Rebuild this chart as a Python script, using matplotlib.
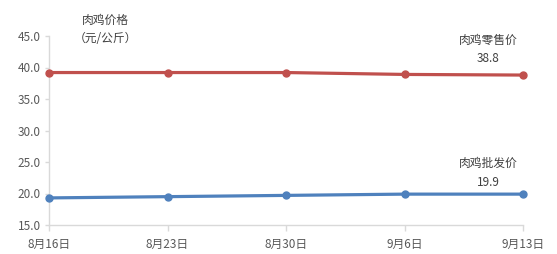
import matplotlib
matplotlib.use("Agg")
import matplotlib.pyplot as plt

plt.rcParams['font.family'] = ['Noto Sans CJK SC', 'DejaVu Sans']

dates = ["8月16日", "8月23日", "8月30日", "9月6日", "9月13日"]
retail = [39.2, 39.2, 39.2, 38.9, 38.8]
wholesale = [19.3, 19.5, 19.7, 19.9, 19.9]
yticks = [15.0, 20.0, 25.0, 30.0, 35.0, 40.0, 45.0]

fig = plt.figure(figsize=(5.57, 2.54), dpi=100)
ax = fig.add_axes([49/557, 1-225/254, (523-49)/557, (225-36)/254])
x = list(range(len(dates)))
ax.plot(x, retail, color='#C0504D', lw=2.3, marker='o', ms=5, clip_on=False, zorder=3)
ax.plot(x, wholesale, color='#4F81BD', lw=2.3, marker='o', ms=5, clip_on=False, zorder=3)

ax.set_xlim(0, len(dates)-1)
ax.set_ylim(15, 45)
ax.set_yticks(yticks)
ax.set_yticklabels([f"{v:.1f}" for v in yticks])
ax.set_xticks(x)
ax.set_xticklabels(dates)
for s in ['top', 'right']:
    ax.spines[s].set_visible(False)
for s in ['left', 'bottom']:
    ax.spines[s].set_color('#D9D9D9')
    ax.spines[s].set_linewidth(1)
ax.tick_params(axis='both', colors='#D9D9D9', labelcolor='#595959', labelsize=8.5, length=4, width=1)
ax.tick_params(axis='y', length=3, pad=3)
ax.tick_params(axis='x', pad=5)

tc = '#404040'
fs = 8.5
fig.text(105/557, 1-20/254, "肉鸡价格", ha='center', va='center', fontsize=fs, color=tc)
fig.text(105/557, 1-39/254, "（元/公斤）", ha='center', va='center', fontsize=fs, color=tc)
fig.text(488/557, 1-40/254, "肉鸡零售价", ha='center', va='center', fontsize=fs, color=tc)
fig.text(488/557, 1-58/254, f"{retail[-1]:.1f}", ha='center', va='center', fontsize=fs, color=tc)
fig.text(488/557, 1-163/254, "肉鸡批发价", ha='center', va='center', fontsize=fs, color=tc)
fig.text(488/557, 1-182/254, f"{wholesale[-1]:.1f}", ha='center', va='center', fontsize=fs, color=tc)

fig.savefig("out.png", dpi=100)
